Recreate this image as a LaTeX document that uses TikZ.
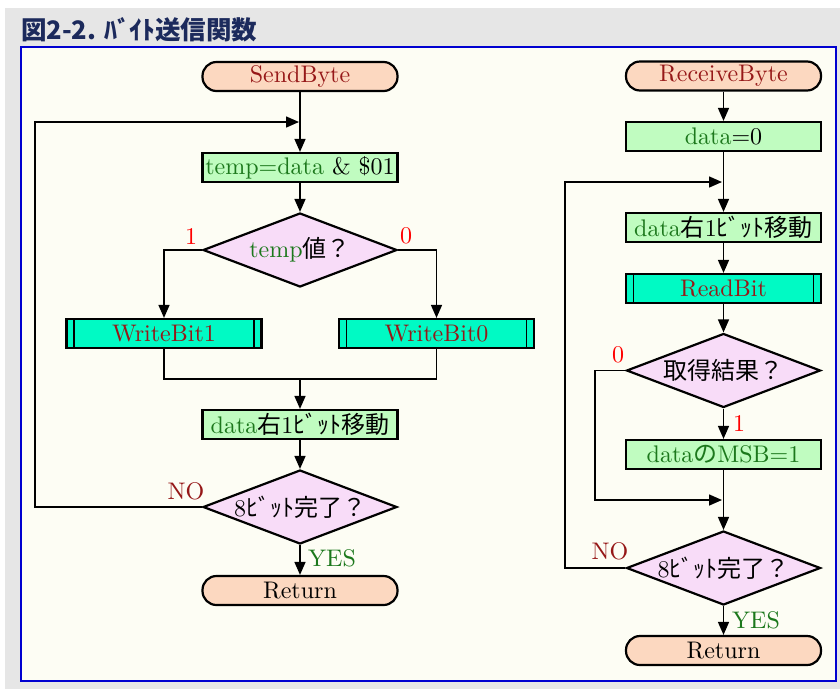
\documentclass[tikz,border=0pt]{standalone}
\usepackage{fontspec}
\usetikzlibrary{shapes.geometric,arrows.meta}
\setmainfont{lmroman10-regular}[Extension=.otf]
\newfontfamily\jp{Noto Sans CJK JP}
\definecolor{bggray}{HTML}{E6E6E6}
\definecolor{panelfill}{HTML}{FDFDF4}
\definecolor{panelblue}{HTML}{0000D0}
\definecolor{titleblue}{HTML}{1C2A5C}
\definecolor{termfill}{HTML}{FCD8C0}
\definecolor{procfill}{HTML}{C0FCC0}
\definecolor{subfill}{HTML}{00FAC4}
\definecolor{decfill}{HTML}{F8DCF8}
\definecolor{dred}{HTML}{961818}
\definecolor{dgreen}{HTML}{1C781C}
\definecolor{lblred}{HTML}{FF0000}
\begin{document}
\begin{tikzpicture}[x=1pt,y=-1pt,
  font=\fontsize{24}{28}\selectfont,
  box/.style={draw=black,line width=2.2pt,minimum width=195pt,minimum height=29pt,inner sep=0pt},
  term/.style={box,fill=termfill,rounded corners=14pt},
  proc/.style={box,fill=procfill},
  sub/.style={box,fill=subfill,
    path picture={\draw[line width=1.6pt]
      ([xshift=7.5pt]path picture bounding box.north west) -- ([xshift=7.5pt]path picture bounding box.south west)
      ([xshift=-7.5pt]path picture bounding box.north east) -- ([xshift=-7.5pt]path picture bounding box.south east);}},
  dec/.style={draw=black,line width=2.2pt,fill=decfill,diamond,aspect=2.6,
    minimum width=194pt,minimum height=74pt,inner xsep=-12pt,inner ysep=-2pt},
  conn/.style={draw=black,line width=1.5pt},
  arr/.style={conn,-{Triangle[length=13pt,width=11pt]}},
  lbl/.style={inner sep=0pt}]
\useasboundingbox (0,0) rectangle (840,689);
\fill[white] (0,0) rectangle (840,689);
\fill[bggray] (5,8) rectangle (840,689);
\node[anchor=west,inner sep=0pt,text=titleblue,font=\fontsize{25.5}{30}\selectfont\jp\bfseries] (title) at (21,30) {図2-2. ﾊﾞｲﾄ送信関数};
\draw[panelblue,line width=2pt,fill=panelfill] (20.5,46.5) rectangle (836,681);

% ---- SendByte ----
\node[term] (sb) at (300,76.5) {\textcolor{dred}{SendByte}};
\node[proc] (tmp) at (300,167.5) {\textcolor{dgreen}{temp=data} \& \$01};
\node[dec] (tv) at (300,250) {\textcolor{dgreen}{temp}{\jp 値？}};
\node[sub] (w1) at (164,333.5) {\textcolor{dred}{WriteBit1}};
\node[sub] (w0) at (436.5,333.5) {\textcolor{dred}{WriteBit0}};
\node[proc] (sh) at (300,424.5) {\textcolor{dgreen}{data}{\jp 右}1{\jp ﾋﾞｯﾄ移動}};
\node[dec] (d8) at (300,507) {8{\jp ﾋﾞｯﾄ完了？}};
\node[term] (ret) at (300,590.5) {Return};

\coordinate (j1) at (164,379);
\coordinate (j0) at (436.5,379);
\coordinate (mj) at (300,379);
\coordinate (lc1) at (35,507);
\coordinate (lc2) at (35,122);
\coordinate (le) at (299,122);

\draw[arr] (sb) -- (tmp);
\draw[arr] (tmp) -- (tv);
\draw[arr] (tv.west) -| (w1.north);
\draw[arr] (tv.east) -| (w0.north);
\draw[conn] (w1.south) -- (j1) -- (j0) -- (w0.south);
\draw[arr] (mj) -- (sh);
\draw[arr] (sh) -- (d8);
\draw[arr] (d8) -- (ret);
\draw[arr] (d8.west) -- (lc1) -- (lc2) -- (le);

\node[lbl,text=lblred] (l1) at (191,236) {1};
\node[lbl,text=lblred] (l0) at (406,236) {0};
\node[lbl,text=dred] (lno) at (186,491) {NO};
\node[lbl,text=dgreen] (lyes) at (332,558) {YES};

% ---- ReceiveByte ----
\node[term] (rb) at (723.5,76) {\textcolor{dred}{ReceiveByte}};
\node[proc] (d0) at (723.5,136.5) {\textcolor{dgreen}{data}=0};
\node[proc] (rsh) at (723.5,227.5) {\textcolor{dgreen}{data}{\jp 右}1{\jp ﾋﾞｯﾄ移動}};
\node[sub] (rd) at (723.5,288.5) {\textcolor{dred}{ReadBit}};
\node[dec] (gr) at (723.5,370.5) {\jp 取得結果？};
\node[proc] (msb) at (723.5,454.5) {\color{dgreen}data{\jp の}MSB=1};
\node[dec] (r8) at (723.5,568) {8{\jp ﾋﾞｯﾄ完了？}};
\node[term] (rret) at (723.5,650.5) {Return};

\coordinate (rl1) at (565,568);
\coordinate (rl2) at (565,182);
\coordinate (rle) at (722,182);
\coordinate (rs1) at (595,370.5);
\coordinate (rs2) at (595,500);
\coordinate (rse) at (722,500);

\draw[arr] (rb) -- (d0);
\draw[arr] (d0) -- (rsh);
\draw[arr] (rsh) -- (rd);
\draw[arr] (rd) -- (gr);
\draw[arr] (gr) -- (msb);
\draw[arr] (msb) -- (r8);
\draw[arr] (r8) -- (rret);
\draw[arr] (r8.west) -- (rl1) -- (rl2) -- (rle);
\draw[arr] (gr.west) -- (rs1) -- (rs2) -- (rse);

\node[lbl,text=lblred] (r0) at (618,355) {0};
\node[lbl,text=lblred] (r1) at (739,423) {1};
\node[lbl,text=dred] (rno) at (610,551) {NO};
\node[lbl,text=dgreen] (ryes) at (756,620) {YES};
\end{tikzpicture}
\end{document}
